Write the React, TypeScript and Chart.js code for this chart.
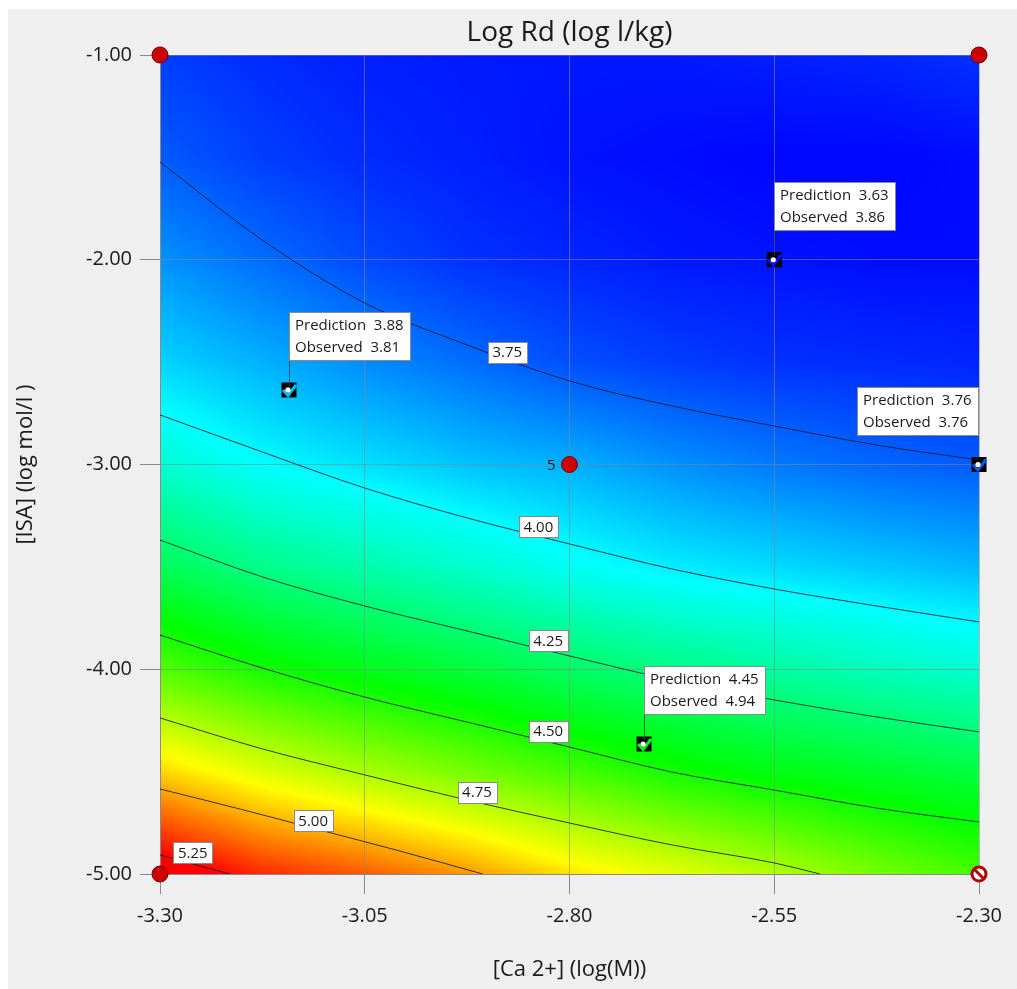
import React, { useEffect, useRef } from "react";
import { Chart, registerables } from "chart.js";

Chart.register(...registerables);

// ---------- DATA ----------
const xTicks = [-3.3, -3.05, -2.8, -2.55, -2.3];
const yTicks = [-1, -2, -3, -4, -5];

// response surface grid
const gridX = [-3.3, -3.175, -3.05, -2.925, -2.8, -2.675, -2.55, -2.425, -2.3];
const gridY = [-1, -1.5, -2, -2.5, -3, -3.5, -4, -4.5, -5];
const gridRowM1_0 = [3.70, 3.67, 3.65, 3.64, 3.64, 3.64, 3.65, 3.66, 3.68];
const gridRowM1_5 = [3.75, 3.70, 3.67, 3.65, 3.63, 3.62, 3.61, 3.61, 3.62];
const gridRowM2_0 = [3.84, 3.78, 3.72, 3.68, 3.66, 3.64, 3.63, 3.62, 3.62];
const gridRowM2_5 = [3.95, 3.89, 3.83, 3.78, 3.73, 3.70, 3.68, 3.67, 3.66];
const gridRowM3_0 = [4.10, 4.02, 3.97, 3.92, 3.89, 3.84, 3.80, 3.77, 3.75];
const gridRowM3_5 = [4.32, 4.23, 4.17, 4.11, 4.04, 3.99, 3.96, 3.93, 3.90];
const gridRowM4_0 = [4.60, 4.50, 4.43, 4.37, 4.30, 4.24, 4.19, 4.14, 4.10];
const gridRowM4_5 = [4.94, 4.83, 4.74, 4.66, 4.58, 4.50, 4.44, 4.40, 4.36];
const gridRowM5_0 = [5.32, 5.19, 5.12, 5.03, 4.92, 4.84, 4.76, 4.66, 4.58];
const gridValues = [gridRowM1_0, gridRowM1_5, gridRowM2_0, gridRowM2_5, gridRowM3_0, gridRowM3_5, gridRowM4_0, gridRowM4_5, gridRowM5_0];

// contour lines
const contourColX = [-3.3, -3.175, -3.05, -2.925, -2.8, -2.675, -2.55, -2.425, -2.3];
const contour375Y = [-1.523, -1.904, -2.211, -2.416, -2.592, -2.714, -2.812, -2.905, -2.978];
const contour400Y = [-2.758, -2.939, -3.115, -3.261, -3.388, -3.510, -3.608, -3.691, -3.769];
const contour425Y = [-3.369, -3.549, -3.691, -3.813, -3.935, -4.053, -4.150, -4.233, -4.306];
const contour450Y = [-3.833, -3.994, -4.136, -4.258, -4.380, -4.502, -4.590, -4.678, -4.746];
const contour475X = [-3.3, -3.175, -3.05, -2.925, -2.8, -2.675, -2.55, -2.494];
const contour475Y = [-4.238, -4.389, -4.516, -4.639, -4.751, -4.858, -4.946, -5.0];
const contour500X = [-3.3, -3.202, -3.105, -3.007, -2.906];
const contour500Y = [-4.585, -4.683, -4.785, -4.888, -5.0];
const contour525X = [-3.3, -3.215];
const contour525Y = [-4.907, -5.0];

const contourLabels = ["3.75", "4.00", "4.25", "4.50", "4.75", "5.00", "5.25"];
const contourLabelX = [-2.876, -2.838, -2.826, -2.826, -2.913, -3.113, -3.260];
const contourLabelY = [-2.451, -3.305, -3.862, -4.302, -4.600, -4.741, -4.897];

// design points
const designX = [-3.3, -2.3, -3.3, -2.8];
const designY = [-1, -1, -5, -3];
const designLabels = ["", "", "", "5"];
const excludedX = [-2.3];
const excludedY = [-5];

// observed experiments
const obsX = [-2.55, -3.1425, -2.3, -2.709];
const obsY = [-2.0, -2.636, -3.0, -4.365];
const predictedVals = ["3.63", "3.88", "3.76", "4.45"];
const observedVals = ["3.86", "3.81", "3.76", "4.94"];

// colour map (style)
const colorStopValues = [3.6, 4.02, 4.47, 4.88, 5.25];
const colorStopColors = [
  [0, 0, 255],
  [0, 255, 255],
  [0, 255, 0],
  [255, 255, 0],
  [255, 0, 0],
];

const FONT = "'Open Sans', 'Noto Sans', sans-serif";

function bracket(arr: number[], v: number): [number, number] {
  const n = arr.length;
  for (let k = 0; k < n - 1; k++) {
    const a = arr[k], b = arr[k + 1];
    const t = (v - a) / (b - a);
    if (t >= 0 && t <= 1) return [k, t];
  }
  const asc = arr[n - 1] > arr[0];
  if (asc ? v < arr[0] : v > arr[0]) return [0, 0];
  return [n - 2, 1];
}

function fieldValue(x: number, y: number) {
  const [i, tx] = bracket(gridX, x);
  const [j, ty] = bracket(gridY, y);
  const v00 = gridValues[j][i], v01 = gridValues[j][i + 1];
  const v10 = gridValues[j + 1][i], v11 = gridValues[j + 1][i + 1];
  return (v00 * (1 - tx) + v01 * tx) * (1 - ty) + (v10 * (1 - tx) + v11 * tx) * ty;
}

function colorFor(v: number): number[] {
  const s = colorStopValues;
  if (v <= s[0]) return colorStopColors[0];
  if (v >= s[s.length - 1]) return colorStopColors[s.length - 1];
  for (let k = 0; k < s.length - 1; k++) {
    if (v >= s[k] && v <= s[k + 1]) {
      const t = (v - s[k]) / (s[k + 1] - s[k]);
      const a = colorStopColors[k], b = colorStopColors[k + 1];
      return [a[0] + (b[0] - a[0]) * t, a[1] + (b[1] - a[1]) * t, a[2] + (b[2] - a[2]) * t];
    }
  }
  return colorStopColors[0];
}

const surfacePlugin = {
  id: "surface",
  beforeDraw(chart: any) {
    const ctx: CanvasRenderingContext2D = chart.ctx;
    ctx.save();
    ctx.fillStyle = "#efefef";
    ctx.fillRect(0, 0, chart.width, chart.height);
    const { left, top, right, bottom } = chart.chartArea;
    const xs = chart.scales.x, ys = chart.scales.y;
    const L = Math.round(left), T = Math.round(top);
    const w = Math.round(right) - L, h = Math.round(bottom) - T;
    const img = ctx.createImageData(w, h);
    const colVals: number[] = [];
    for (let px = 0; px < w; px++) colVals.push(xs.getValueForPixel(L + px + 0.5));
    for (let py = 0; py < h; py++) {
      const yv = ys.getValueForPixel(T + py + 0.5);
      for (let px = 0; px < w; px++) {
        const c = colorFor(fieldValue(colVals[px], yv));
        const o = (py * w + px) * 4;
        img.data[o] = c[0];
        img.data[o + 1] = c[1];
        img.data[o + 2] = c[2];
        img.data[o + 3] = 255;
      }
    }
    ctx.putImageData(img, L, T);
    ctx.restore();
  },
  afterDatasetsDraw(chart: any) {
    const ctx: CanvasRenderingContext2D = chart.ctx;
    const xs = chart.scales.x, ys = chart.scales.y;
    const area = chart.chartArea;
    ctx.save();

    // contour labels
    ctx.font = `15px ${FONT}`;
    ctx.textAlign = "center";
    ctx.textBaseline = "middle";
    contourLabels.forEach((t, i) => {
      const cx = xs.getPixelForValue(contourLabelX[i]);
      const cy = ys.getPixelForValue(contourLabelY[i]);
      const tw = ctx.measureText(t).width + 9;
      const th = 21;
      ctx.fillStyle = "#ffffff";
      ctx.fillRect(Math.round(cx - tw / 2) + 0.5, Math.round(cy - th / 2) + 0.5, Math.round(tw), th);
      ctx.strokeStyle = "#8a8a8a";
      ctx.lineWidth = 1;
      ctx.strokeRect(Math.round(cx - tw / 2) + 0.5, Math.round(cy - th / 2) + 0.5, Math.round(tw), th);
      ctx.fillStyle = "#1a1a1a";
      ctx.fillText(t, cx, cy + 1);
    });

    // design point labels
    ctx.textAlign = "right";
    designLabels.forEach((t, i) => {
      if (!t) return;
      const cx = xs.getPixelForValue(designX[i]);
      const cy = ys.getPixelForValue(designY[i]);
      ctx.fillStyle = "#1a1a1a";
      ctx.fillText(t, cx - 14, cy + 1);
    });

    // excluded point symbol
    excludedX.forEach((xv, i) => {
      const cx = xs.getPixelForValue(xv);
      const cy = ys.getPixelForValue(excludedY[i]);
      ctx.beginPath();
      ctx.arc(cx, cy, 7, 0, Math.PI * 2);
      ctx.fillStyle = "#ffffff";
      ctx.fill();
      ctx.lineWidth = 3;
      ctx.strokeStyle = "#b00000";
      ctx.stroke();
      ctx.beginPath();
      ctx.moveTo(cx - 5, cy - 5);
      ctx.lineTo(cx + 5, cy + 5);
      ctx.stroke();
    });

    // observed markers: check + dot
    obsX.forEach((xv, i) => {
      const cx = xs.getPixelForValue(xv);
      const cy = ys.getPixelForValue(obsY[i]);
      const c = colorFor(fieldValue(xv, obsY[i]));
      ctx.strokeStyle = `rgb(${c[0]},${c[1]},${c[2]})`;
      ctx.lineWidth = 3;
      ctx.beginPath();
      ctx.moveTo(cx - 6, cy);
      ctx.lineTo(cx - 1, cy + 5.5);
      ctx.lineTo(cx + 7, cy - 5);
      ctx.stroke();
      ctx.beginPath();
      ctx.arc(cx - 1, cy, 2.6, 0, Math.PI * 2);
      ctx.fillStyle = "#ffffff";
      ctx.fill();
    });

    // annotation boxes
    ctx.font = `15px ${FONT}`;
    ctx.textAlign = "left";
    ctx.textBaseline = "middle";
    obsX.forEach((xv, i) => {
      const px = xs.getPixelForValue(xv);
      const py = ys.getPixelForValue(obsY[i]);
      const l1 = `Prediction  ${predictedVals[i]}`;
      const l2 = `Observed  ${observedVals[i]}`;
      const bw = Math.round(Math.max(ctx.measureText(l1).width, ctx.measureText(l2).width) + 12);
      const bh = 48;
      let bx = Math.round(px);
      if (bx + bw > area.right) bx = Math.round(px) - bw - 1;
      const by = Math.round(py) - 78;
      if (bx === Math.round(px)) {
        ctx.strokeStyle = "rgba(50,70,80,0.85)";
        ctx.lineWidth = 1;
        ctx.beginPath();
        ctx.moveTo(Math.round(px) + 0.5, by + bh);
        ctx.lineTo(Math.round(px) + 0.5, py - 4);
        ctx.stroke();
      }
      ctx.fillStyle = "#ffffff";
      ctx.fillRect(bx + 0.5, by + 0.5, bw, bh);
      ctx.strokeStyle = "#8a8a8a";
      ctx.lineWidth = 1;
      ctx.strokeRect(bx + 0.5, by + 0.5, bw, bh);
      ctx.fillStyle = "#1a1a1a";
      ctx.fillText(l1, bx + 6, by + 14);
      ctx.fillText(l2, bx + 6, by + 36);
    });

    // chart title
    ctx.font = `28px ${FONT}`;
    ctx.textAlign = "center";
    ctx.textBaseline = "middle";
    ctx.fillStyle = "#1a1a1a";
    ctx.fillText("Log Rd (log l/kg)", (area.left + area.right) / 2, 24);
    ctx.restore();
  },
};

function pts(xa: number[], ya: number[]) {
  return xa.map((x, i) => ({ x, y: ya[i] }));
}

export default function App() {
  const ref = useRef<HTMLCanvasElement | null>(null);
  useEffect(() => {
    if (!ref.current) return;
    const contourStyle = {
      showLine: true,
      borderColor: "rgba(25,25,45,0.85)",
      borderWidth: 1,
      pointRadius: 0,
      pointHoverRadius: 0,
      cubicInterpolationMode: "monotone" as const,
      fill: false,
    };
    const chart = new Chart(ref.current, {
      type: "scatter",
      data: {
        datasets: [
          { ...contourStyle, data: pts(contourColX, contour375Y) },
          { ...contourStyle, data: pts(contourColX, contour400Y) },
          { ...contourStyle, data: pts(contourColX, contour425Y) },
          { ...contourStyle, data: pts(contourColX, contour450Y) },
          { ...contourStyle, data: pts(contour475X, contour475Y) },
          { ...contourStyle, data: pts(contour500X, contour500Y) },
          { ...contourStyle, data: pts(contour525X, contour525Y) },
          {
            data: pts(designX, designY),
            pointRadius: 8,
            backgroundColor: "#cc0000",
            borderColor: "#7a0000",
            borderWidth: 1,
            clip: false,
          } as any,
          {
            data: pts(obsX, obsY),
            pointStyle: "rect",
            pointRadius: 10.6,
            backgroundColor: "#000000",
            borderWidth: 0,
            clip: false,
          } as any,
        ],
      },
      options: {
        animation: false,
        responsive: false,
        devicePixelRatio: 1,
        events: [],
        layout: { padding: { left: 0, top: 46, right: 38, bottom: 0 } },
        plugins: {
          legend: { display: false },
          title: { display: false },
          tooltip: { enabled: false },
        },
        scales: {
          x: {
            type: "linear",
            min: -3.3,
            max: -2.3,
            afterBuildTicks: (s: any) => {
              s.ticks = xTicks.map((v) => ({ value: v }));
            },
            afterFit: (s: any) => {
              s.height = 115;
            },
            ticks: {
              autoSkip: false,
              maxRotation: 0,
              padding: 10,
              color: "#1a1a1a",
              font: { size: 20, family: FONT },
              callback: (v: any) => Number(v).toFixed(2),
            },
            grid: {
              color: "rgba(135,135,135,0.55)",
              lineWidth: 1,
              tickColor: "#8a8a8a",
              tickLength: 20,
            },
            border: { display: true, color: "#8a8a8a" },
            title: {
              display: true,
              text: "[Ca 2+] (log(M))",
              color: "#1a1a1a",
              font: { size: 22, family: FONT },
              padding: { top: 0, bottom: 6 },
            },
          },
          y: {
            type: "linear",
            min: -5,
            max: -1,
            afterBuildTicks: (s: any) => {
              s.ticks = yTicks.map((v) => ({ value: v }));
            },
            afterFit: (s: any) => {
              s.width = 152;
            },
            ticks: {
              autoSkip: false,
              padding: 8,
              color: "#1a1a1a",
              font: { size: 20, family: FONT },
              callback: (v: any) => Number(v).toFixed(2),
            },
            grid: {
              color: "rgba(135,135,135,0.55)",
              lineWidth: 1,
              tickColor: "#8a8a8a",
              tickLength: 20,
            },
            border: { display: true, color: "#8a8a8a" },
            title: {
              display: true,
              text: "[ISA] (log mol/l )",
              color: "#1a1a1a",
              font: { size: 22, family: FONT },
              padding: { top: 5, bottom: 0 },
            },
          },
        },
      } as any,
      plugins: [surfacePlugin],
    });
    return () => chart.destroy();
  }, []);

  return (
    <div style={{ position: "absolute", left: 8, top: 9, width: 1009, height: 980 }}>
      <canvas ref={ref} width={1009} height={980} style={{ width: 1009, height: 980, display: "block" }} />
    </div>
  );
}
